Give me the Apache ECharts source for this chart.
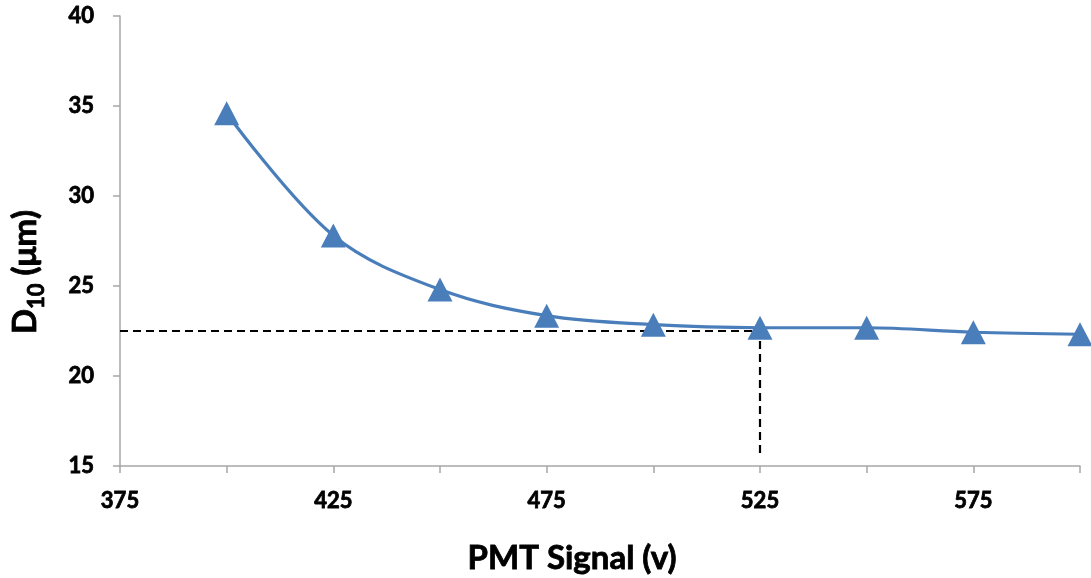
<!DOCTYPE html>
<html>
<head>
<meta charset="utf-8">
<script src="https://cdn.jsdelivr.net/npm/echarts@6/dist/echarts.min.js"></script>
<style>html,body{margin:0;padding:0;background:#fff}#c{width:1091px;height:578px}</style>
</head>
<body>
<div id="c"></div>
<script>
var pmtSignal = [400, 425, 450, 475, 500, 525, 550, 575, 600];
var d10 = [34.6, 27.8, 24.8, 23.35, 22.85, 22.68, 22.68, 22.43, 22.32];
var refX = [375, 525, 525];
var refY = [22.5, 22.5, 15.45];
var xMin = 375, xMax = 600, xStep = 25;
var yMin = 15, yMax = 40, yStep = 5;

var font = 'Lato, "Open Sans", sans-serif';
var thick = {textBorderColor: '#000', textBorderWidth: 0.8};
function bold(o) { return Object.assign({fontFamily: font, fontWeight: 'bold', color: '#000'}, thick, o); }
var chart = echarts.init(document.getElementById('c'), null, {renderer: 'canvas'});
chart.setOption({
  animation: false,
  backgroundColor: '#ffffff',
  grid: {left: 120, right: 11, top: 16, bottom: 112, containLabel: false, outerBoundsMode: 'none'},
  xAxis: {
    type: 'value', min: xMin, max: xMax, interval: xStep,
    name: 'PMT Signal (v)', nameLocation: 'middle', nameGap: 76,
    nameTextStyle: bold({fontSize: 33, padding: [0, 56, 0, 0]}),
    axisLine: {lineStyle: {color: '#a6a6a6', width: 1.5}},
    axisTick: {show: true, length: 7, lineStyle: {color: '#a6a6a6', width: 1.5}},
    splitLine: {show: false},
    axisLabel: bold({
      fontSize: 22, margin: 24,
      formatter: function (v) { return ((v - xMin) % 50 === 0) ? String(v) : ''; }
    })
  },
  yAxis: {
    type: 'value', min: yMin, max: yMax, interval: yStep,
    name: '{a|D}{s|10}{a| (μm)}', nameLocation: 'middle', nameGap: 72,
    nameTextStyle: {
      padding: [0, 62, 0, 0],
      rich: {
        a: bold({fontSize: 33, verticalAlign: 'top', padding: [0, 0, 6, 0]}),
        s: bold({fontSize: 22, verticalAlign: 'bottom', padding: [0, 0, 0, 0]})
      }
    },
    axisLine: {show: true, lineStyle: {color: '#a6a6a6', width: 1.5}},
    axisTick: {show: true, length: 7, lineStyle: {color: '#a6a6a6', width: 1.5}},
    splitLine: {show: false},
    axisLabel: bold({fontSize: 22, margin: 26})
  },
  series: [
    {
      type: 'line',
      data: refX.map(function (x, i) { return [x, refY[i]]; }),
      showSymbol: false, symbol: 'none',
      lineStyle: {color: '#000', width: 2.2, type: [8, 5]},
      z: 1, silent: true
    },
    {
      type: 'line',
      data: pmtSignal.map(function (x, i) { return [x, d10[i]]; }),
      smooth: 0.35,
      clip: false,
      symbol: 'triangle', symbolSize: [25, 24],
      itemStyle: {color: '#4a7ebb', borderColor: '#4a7ebb', borderWidth: 0},
      lineStyle: {color: '#4a7ebb', width: 3.2},
      z: 2
    }
  ]
});
</script>
</body>
</html>
